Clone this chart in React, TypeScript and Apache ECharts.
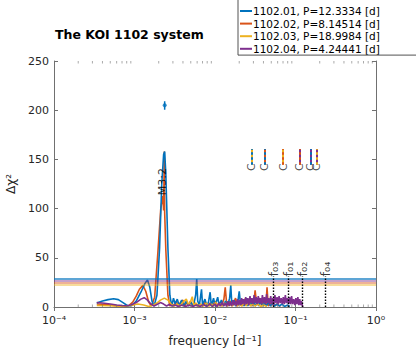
import React, { useEffect, useRef } from 'react';
import * as echarts from 'echarts';

const FONT = '"DejaVu Sans", "Liberation Sans", sans-serif';
const TEXT = '#262626';
const AXIS = '#707070';

// ---- data ----
const koiIds = ['1102.01', '1102.02', '1102.03', '1102.04'];
const periods = [12.3334, 8.14514, 18.9984, 4.24441];
const colors = ['#0072BD', '#D95319', '#EDB120', '#7E2F8E'];
const thresholds = [28.4, 25, 23, 27];

const yTickMax = 250;
const yTickStep = 50;

const blueData: [number, number][] = [
  [3.4e-4, 4.0], [4.0e-4, 6.0], [4.7e-4, 7.5], [5.5e-4, 8.3], [6.3e-4, 7.5], [7.2e-4, 4.5],
  [8.3e-4, 1.0], [9.3e-4, 1.5], [1.05e-3, 6], [1.2e-3, 15], [1.35e-3, 24], [1.45e-3, 27.5],
  [1.55e-3, 20], [1.65e-3, 6], [1.75e-3, 1], [1.9e-3, 12], [2.05e-3, 60], [2.18e-3, 125],
  [2.3e-3, 155], [2.37e-3, 158], [2.45e-3, 135], [2.6e-3, 60], [2.75e-3, 12], [2.9e-3, 1],
  [3.05e-3, 9], [3.2e-3, 3], [3.4e-3, 8], [3.6e-3, 1], [3.85e-3, 7], [4.1e-3, 1], [4.4e-3, 6],
  [4.7e-3, 1], [5.0e-3, 5], [5.4e-3, 1], [5.75e-3, 12], [5.93e-3, 28.5], [6.1e-3, 6],
  [6.4e-3, 2], [6.8e-3, 18], [7.0e-3, 2], [7.5e-3, 8], [7.9e-3, 1], [8.3e-3, 5], [8.7e-3, 15],
  [9.0e-3, 1], [9.6e-3, 9], [1.0e-2, 1], [1.08e-2, 10], [1.13e-2, 1], [1.2e-2, 7], [1.27e-2, 1],
  [1.35e-2, 6], [1.43e-2, 1], [1.52e-2, 9], [1.57e-2, 22], [1.62e-2, 2], [1.72e-2, 7],
  [1.8e-2, 1], [1.92e-2, 5], [2.0e-2, 16], [2.08e-2, 2], [2.2e-2, 8], [2.3e-2, 1], [2.45e-2, 9],
  [2.55e-2, 1], [2.7e-2, 6], [2.85e-2, 1], [3.0e-2, 7], [3.15e-2, 1], [3.35e-2, 5], [3.5e-2, 1],
  [3.7e-2, 6], [3.9e-2, 1], [4.1e-2, 4], [4.35e-2, 1], [4.6e-2, 5], [4.9e-2, 1], [5.2e-2, 4],
  [5.5e-2, 1], [5.9e-2, 3], [6.3e-2, 1], [6.8e-2, 3], [7.3e-2, 0.5], [8.0e-2, 2], [8.5e-2, 0.5],
];

const orangeData: [number, number][] = [
  [3.4e-4, 3], [4.5e-4, 2.5], [5.5e-4, 1.5], [6.5e-4, 0.8], [7.5e-4, 0.5], [8.5e-4, 1.5],
  [9.5e-4, 5], [1.05e-3, 11], [1.15e-3, 18], [1.27e-3, 22], [1.38e-3, 16], [1.5e-3, 5],
  [1.62e-3, 1], [1.78e-3, 10], [1.95e-3, 55], [2.12e-3, 100], [2.25e-3, 113], [2.3e-3, 98],
  [2.345e-3, 158], [2.37e-3, 96], [2.45e-3, 58], [2.6e-3, 12], [2.75e-3, 1], [2.9e-3, 4],
  [3.1e-3, 1], [3.3e-3, 6], [3.5e-3, 1], [3.75e-3, 5], [4.0e-3, 7], [4.2e-3, 1], [4.5e-3, 5],
  [4.7e-3, 1], [4.95e-3, 6], [5.3e-3, 1], [5.6e-3, 4], [6.0e-3, 1], [6.5e-3, 3], [7.0e-3, 1],
  [7.6e-3, 5], [8.1e-3, 1], [8.7e-3, 4], [9.3e-3, 1], [1.0e-2, 6], [1.06e-2, 1], [1.13e-2, 5],
  [1.2e-2, 1], [1.29e-2, 8], [1.34e-2, 20], [1.4e-2, 2], [1.55e-2, 6], [1.65e-2, 1], [1.8e-2, 9],
  [1.9e-2, 1], [2.05e-2, 7], [2.2e-2, 1], [2.4e-2, 9], [2.55e-2, 2], [2.75e-2, 8], [2.9e-2, 1],
  [3.05e-2, 6], [3.15e-2, 17], [3.3e-2, 2], [3.6e-2, 9], [3.8e-2, 1], [4.05e-2, 8], [4.3e-2, 2],
  [4.43e-2, 20], [4.58e-2, 1], [5.0e-2, 4], [5.4e-2, 1], [5.9e-2, 3], [6.5e-2, 0.5],
];

const yellowData: [number, number][] = [
  [3.4e-4, 1.5], [5e-4, 1.2], [7e-4, 0.8], [9e-4, 1.5], [1.1e-3, 3], [1.3e-3, 2], [1.5e-3, 0.5],
  [1.7e-3, 2], [1.9e-3, 4], [2.1e-3, 7], [2.35e-3, 9], [2.6e-3, 7], [2.85e-3, 3], [3.1e-3, 1],
  [3.4e-3, 3], [3.7e-3, 1], [4.0e-3, 5], [4.4e-3, 8], [4.7e-3, 2], [5.0e-3, 6], [5.22e-3, 10.5],
  [5.45e-3, 2], [5.8e-3, 4], [6.2e-3, 1], [6.7e-3, 3], [7.2e-3, 1], [7.8e-3, 4], [8.4e-3, 1],
  [9.0e-3, 3], [9.6e-3, 1], [1.02e-2, 5], [1.08e-2, 1], [1.16e-2, 3], [1.24e-2, 1], [1.33e-2, 4],
  [1.42e-2, 1], [1.52e-2, 3], [1.62e-2, 1], [1.75e-2, 4], [1.87e-2, 1], [2.0e-2, 3], [2.15e-2, 1],
  [2.3e-2, 4], [2.45e-2, 1], [2.6e-2, 6], [2.75e-2, 1], [2.95e-2, 3], [3.15e-2, 1], [3.4e-2, 3],
  [3.7e-2, 0.5], [4.0e-2, 2], [4.4e-2, 0.5],
];

const purpleData: [number, number][] = [
  [3.4e-4, 4.5], [4e-4, 4], [5e-4, 3], [6e-4, 2], [7e-4, 1.5], [8e-4, 1.2], [9e-4, 2],
  [1.05e-3, 4.5], [1.2e-3, 8], [1.32e-3, 9.5], [1.45e-3, 7], [1.6e-3, 3], [1.75e-3, 1],
  [1.95e-3, 3], [2.1e-3, 4.5], [2.3e-3, 3], [2.5e-3, 1], [2.7e-3, 2.5], [2.95e-3, 1], [3.2e-3, 2],
  [3.5e-3, 0.5], [3.9e-3, 2], [4.3e-3, 0.5], [4.8e-3, 2], [5.3e-3, 0.5], [5.9e-3, 2],
  [6.5e-3, 0.5], [7.2e-3, 2.5], [7.9e-3, 0.5], [8.6e-3, 3], [9.3e-3, 0.5], [1.0e-2, 3],
  [1.06e-2, 0.5], [1.12e-2, 4], [1.17e-2, 1], [1.23e-2, 5], [1.28e-2, 1], [1.34e-2, 4],
  [1.39e-2, 0.5], [1.45e-2, 6], [1.5e-2, 1], [1.56e-2, 5], [1.61e-2, 1], [1.67e-2, 7],
  [1.72e-2, 2], [1.78e-2, 6], [1.84e-2, 1], [1.9e-2, 8], [1.96e-2, 2], [2.02e-2, 7], [2.08e-2, 2],
  [2.14e-2, 9], [2.2e-2, 3], [2.27e-2, 8], [2.34e-2, 2], [2.41e-2, 10], [2.48e-2, 3], [2.56e-2, 9],
  [2.64e-2, 2], [2.72e-2, 11], [2.8e-2, 4], [2.88e-2, 9], [2.97e-2, 3], [3.06e-2, 12],
  [3.15e-2, 4], [3.25e-2, 10], [3.35e-2, 3], [3.45e-2, 11], [3.55e-2, 4], [3.66e-2, 9],
  [3.77e-2, 3], [3.88e-2, 12], [4.0e-2, 4], [4.12e-2, 10], [4.25e-2, 3], [4.38e-2, 13],
  [4.5e-2, 4], [4.64e-2, 9], [4.78e-2, 3], [4.92e-2, 11], [5.07e-2, 3], [5.22e-2, 9],
  [5.38e-2, 2], [5.55e-2, 12], [5.72e-2, 4], [5.9e-2, 10], [6.07e-2, 3], [6.25e-2, 11],
  [6.44e-2, 4], [6.64e-2, 9], [6.84e-2, 3], [7.05e-2, 10], [7.26e-2, 3], [7.48e-2, 12],
  [7.7e-2, 4], [7.94e-2, 9], [8.18e-2, 3], [8.43e-2, 10], [8.68e-2, 3], [8.94e-2, 11],
  [9.2e-2, 3], [9.5e-2, 8], [9.8e-2, 2], [1.01e-1, 9], [1.04e-1, 3], [1.07e-1, 10],
  [1.1e-1, 2], [1.13e-1, 8], [1.16e-1, 2], [1.19e-1, 6], [1.22e-1, 1], [1.24e-1, 0],
];

const curveData = [blueData, orangeData, yellowData, purpleData];
const drawOrder = [1, 0, 2, 3];

// measured super-period point of the 3:2 pair
const peakFreq = 0.00237;
const peakValue = 205;
const peakErr = [200.5, 209];
const m32Label: [number, number] = [0.0022, 127.5];

// synodic stems (pairs of planets) and their heights
const synodicPairs: [number, number][] = [[0, 2], [0, 1], [1, 2], [1, 3], [0, 3], [2, 3]];
const stemRange = [144.5, 160.5];
const stemLabelY = 142;
const fLineTop = 31;

const SUP: Record<string, string> = { '-': '⁻', '0': '⁰', '1': '¹', '2': '²', '3': '³', '4': '⁴' };
const SUB: Record<string, string> = { '0': '₀', '1': '₁', '2': '₂', '3': '₃', '4': '₄' };

const seriesNames = koiIds.map((id, i) => `${id}, P=${String(periods[i])} [d]`);
const orbitalFreqs = periods.map((p) => 1 / p);

const minorTicks: [number, number][] = [];
[-4, -3, -2, -1].forEach((e) => {
  for (let m = 2; m <= 9; m++) minorTicks.push([m * Math.pow(10, e), 1]);
});

export default function App() {
  const ref = useRef<HTMLDivElement>(null);
  useEffect(() => {
    if (!ref.current) return;
    const chart = echarts.init(ref.current, undefined, { renderer: 'svg' });

    const series: any[] = [];
    drawOrder.forEach((i) => {
      series.push({
        name: seriesNames[i],
        type: 'line',
        data: curveData[i],
        symbol: 'none',
        showSymbol: false,
        lineStyle: { width: 1.6, color: colors[i] },
        itemStyle: { color: colors[i] },
        emphasis: { disabled: true },
        z: 3,
        markLine: {
          silent: true,
          symbol: ['none', 'none'],
          label: { show: false },
          lineStyle: { color: colors[i], width: 1.5, type: 'solid', opacity: i === 0 ? 0.85 : 0.6 },
          data: [{ yAxis: thresholds[i] }],
        },
      });
    });

    // error bar + marker of the measured peak
    series.push({
      name: 'peakErr',
      type: 'line',
      data: [[peakFreq, peakErr[0]], [peakFreq, peakErr[1]]],
      symbol: 'none',
      lineStyle: { width: 1.5, color: colors[0] },
      z: 5,
    });
    series.push({
      name: 'peak',
      type: 'scatter',
      data: [[peakFreq, peakValue]],
      symbol: 'circle',
      symbolSize: 4,
      itemStyle: { color: colors[0] },
      z: 5,
    });

    // M3:2 label
    series.push({
      name: 'm32',
      type: 'scatter',
      data: [m32Label],
      symbolSize: 0,
      silent: true,
      z: 6,
      label: {
        show: true,
        position: 'inside',
        formatter: 'M3:2',
        rotate: 90,
        align: 'center',
        verticalAlign: 'middle',
        fontSize: 11,
        fontFamily: FONT,
        color: '#000',
      },
    });

    // synodic stems with "C" labels
    const stemLines: any[] = [];
    const stemPoints: [number, number][] = [];
    synodicPairs.forEach(([a, b]) => {
      const f = Math.abs(orbitalFreqs[a] - orbitalFreqs[b]);
      stemPoints.push([f, stemLabelY]);
      stemLines.push([
        { coord: [f, stemRange[0]], lineStyle: { color: colors[b], width: 2, type: 'solid' } },
        { coord: [f, stemRange[1]] },
      ]);
      stemLines.push([
        { coord: [f, stemRange[0]], lineStyle: { color: colors[a], width: 2, type: [2.5, 2.5], dashOffset: 0 } },
        { coord: [f, stemRange[1]] },
      ]);
    });
    series.push({
      name: 'stems',
      type: 'scatter',
      data: stemPoints,
      symbolSize: 0,
      silent: true,
      z: 6,
      label: {
        show: true,
        position: 'inside',
        formatter: 'C',
        rotate: 90,
        align: 'center',
        verticalAlign: 'middle',
        fontSize: 11,
        fontFamily: FONT,
        color: TEXT,
      },
      markLine: {
        silent: true,
        symbol: ['none', 'none'],
        label: { show: false },
        data: stemLines,
      },
    });

    // orbital frequency lines f0j
    series.push({
      name: 'fLabels',
      type: 'scatter',
      data: orbitalFreqs.map((f) => [f, fLineTop]),
      symbolSize: 0,
      silent: true,
      z: 6,
      label: {
        show: true,
        position: 'inside',
        formatter: (p: any) => 'f' + koiIds[p.dataIndex].slice(-2).split('').map((c) => SUB[c]).join(''),
        rotate: 90,
        align: 'left',
        verticalAlign: 'middle',
        fontSize: 13,
        fontFamily: FONT,
        color: '#000',
      },
      markLine: {
        silent: true,
        symbol: ['none', 'none'],
        label: { show: false },
        lineStyle: { color: '#000', width: 1.4, type: [1.5, 1.5] },
        data: orbitalFreqs.map((f) => [{ coord: [f, 0] }, { coord: [f, fLineTop] }]),
      },
    });

    // log minor ticks (axis decoration)
    series.push({
      name: 'minorTicks',
      type: 'custom',
      data: minorTicks,
      silent: true,
      clip: false,
      z: 10,
      renderItem: (params: any, api: any) => {
        const cs = params.coordSys;
        const x = api.coord([api.value(0), api.value(1)])[0];
        const yb = cs.y + cs.height;
        const yt = cs.y;
        return {
          type: 'group',
          children: [
            { type: 'line', shape: { x1: x, y1: yb, x2: x, y2: yb - 2.5 }, style: { stroke: AXIS, lineWidth: 0.6 } },
            { type: 'line', shape: { x1: x, y1: yt, x2: x, y2: yt + 2.5 }, style: { stroke: AXIS, lineWidth: 0.6 } },
          ],
        };
      },
    });

    const axisLineStyle = { color: AXIS, width: 1 };
    const xLabel = (v: number) => {
      const e = String(Math.round(Math.log10(v)));
      return '10' + e.split('').map((c) => SUP[c]).join('');
    };

    chart.setOption({
      animation: false,
      backgroundColor: '#fff',
      textStyle: { fontFamily: FONT },
      title: {
        text: 'The KOI 1102 system',
        left: 55,
        top: 28,
        padding: 0,
        textStyle: { fontSize: 12.5, fontWeight: 'bold', color: '#000', fontFamily: FONT },
      },
      legend: {
        data: seriesNames,
        orient: 'vertical',
        left: 238,
        top: -4,
        padding: [8.7, 60, 0, 2],
        itemGap: 0,
        itemWidth: 12,
        itemHeight: 2,
        icon: 'rect',
        borderColor: TEXT,
        borderWidth: 0.8,
        backgroundColor: '#fff',
        selectedMode: false,
        textStyle: { fontSize: 10.5, lineHeight: 12.6, color: '#000', fontFamily: FONT, padding: [0, 0, 0, -4] },
      },
      grid: { left: 54, right: 40, top: 61, bottom: 46, containLabel: false, outerBoundsMode: 'none' },
      xAxis: [
        {
          type: 'log',
          logBase: 10,
          min: 1e-4,
          max: 1,
          axisLine: { show: true, lineStyle: axisLineStyle },
          axisTick: { show: true, inside: true, length: 4, lineStyle: axisLineStyle },
          axisLabel: { formatter: xLabel, fontSize: 11, color: TEXT, margin: 8, fontFamily: FONT },
          splitLine: { show: false },
          name: 'frequency [d⁻¹]',
          nameLocation: 'middle',
          nameGap: 28,
          nameTextStyle: { fontSize: 12.1, color: TEXT, fontFamily: FONT },
        },
        {
          type: 'log',
          logBase: 10,
          min: 1e-4,
          max: 1,
          position: 'top',
          axisLine: { show: false },
          axisTick: { show: true, inside: true, length: 4, lineStyle: axisLineStyle },
          axisLabel: { show: false },
          splitLine: { show: false },
        },
      ],
      yAxis: [
        {
          type: 'value',
          min: 0,
          max: yTickMax,
          interval: yTickStep,
          axisLine: { show: true, lineStyle: axisLineStyle },
          axisTick: { show: true, inside: true, length: 4, lineStyle: axisLineStyle },
          axisLabel: { fontSize: 11, color: TEXT, margin: 5, fontFamily: FONT },
          splitLine: { show: false },
          name: 'Δχ²',
          nameLocation: 'middle',
          nameGap: 27,
          nameTextStyle: { fontSize: 12.1, color: TEXT, fontFamily: FONT },
        },
        {
          type: 'value',
          min: 0,
          max: yTickMax,
          interval: yTickStep,
          position: 'right',
          axisLine: { show: true, lineStyle: axisLineStyle },
          axisTick: { show: true, inside: true, length: 4, lineStyle: axisLineStyle },
          axisLabel: { show: false },
          splitLine: { show: false },
        },
      ],
      series,
    });

    return () => chart.dispose();
  }, []);

  return <div ref={ref} style={{ position: 'fixed', left: 0, top: 0, width: 416, height: 353 }} />;
}
